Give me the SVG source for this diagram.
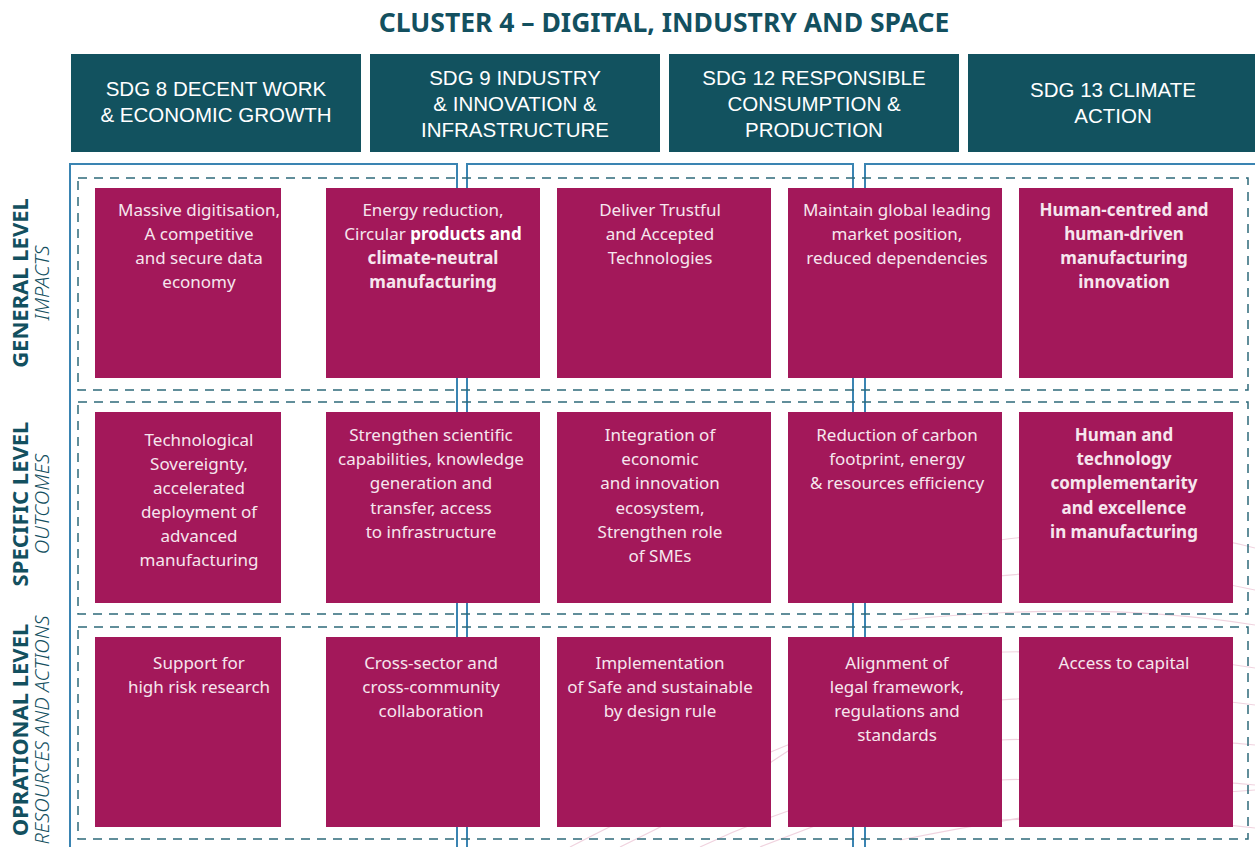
<svg xmlns="http://www.w3.org/2000/svg" width="1255" height="847" viewBox="0 0 1255 847">
<style>
.title{font-family:"Noto Sans","Open Sans",sans-serif;font-weight:700;font-size:26.5px;fill:#13505f}
.hdr rect{fill:#12525f}
.hdr text{font-family:"Liberation Sans",Arial,sans-serif;font-size:20.5px;fill:#ffffff;text-anchor:middle}
.box rect{fill:#a3185a}
.box text{font-family:"Noto Sans","Open Sans",sans-serif;font-size:17px;fill:#f6e6ee;text-anchor:middle}
.b{font-weight:700;fill:#ffffff}
.lvl{font-family:"Noto Sans","Open Sans",sans-serif;font-size:22px;font-weight:700;fill:#13505f;text-anchor:middle}
.sub{font-family:"Noto Sans","Open Sans",sans-serif;font-size:20px;font-style:italic;font-weight:300;fill:#13505f;text-anchor:middle}
.col{fill:none;stroke:#3a84b2;stroke-width:2}
.row{fill:none;stroke:#2e6a7a;stroke-width:1.5;stroke-dasharray:9 7}
.deco{fill:none;stroke:#f0d3df;stroke-width:1.2}
</style>
<rect width="1255" height="847" fill="#ffffff"/>
<g id="decoration">
<path class="deco" d="M1000 540 Q1150 520 1255 548"/>
<path class="deco" d="M960 580 Q1120 560 1255 590"/>
<path class="deco" d="M900 620 Q1100 600 1255 625"/>
<path class="deco" d="M860 660 Q1080 640 1255 668"/>
<path class="deco" d="M1000 700 Q1150 690 1255 705"/>
<path class="deco" d="M1000 740 Q1150 735 1255 745"/>
<path class="deco" d="M1000 780 Q1150 775 1255 785"/>
<path class="deco" d="M1000 820 Q1150 815 1255 828"/>
<path class="deco" d="M900 840 Q1100 800 1255 790"/>
<path class="deco" d="M570 847 Q700 780 800 740"/>
<path class="deco" d="M620 847 Q740 790 860 700"/>
<path class="deco" d="M700 847 Q800 800 900 780"/>
<path class="deco" d="M760 847 Q880 800 1000 760"/>
</g>
<text class="title" x="664" y="32" text-anchor="middle">CLUSTER 4 – DIGITAL, INDUSTRY AND SPACE</text>
<g id="h1" class="hdr"><rect x="71" y="54" width="290" height="98"/><text x="216" y="96">SDG 8 DECENT WORK<tspan x="216" dy="26">&amp; ECONOMIC GROWTH</tspan></text></g>
<g id="h2" class="hdr"><rect x="370" y="54" width="290" height="98"/><text x="515" y="85">SDG 9 INDUSTRY<tspan x="515" dy="26">&amp; INNOVATION &amp;</tspan><tspan x="515" dy="26">INFRASTRUCTURE</tspan></text></g>
<g id="h3" class="hdr"><rect x="669" y="54" width="290" height="98"/><text x="814" y="85">SDG 12 RESPONSIBLE<tspan x="814" dy="26">CONSUMPTION &amp;</tspan><tspan x="814" dy="26">PRODUCTION</tspan></text></g>
<g id="h4" class="hdr"><rect x="968" y="54" width="290" height="98"/><text x="1113" y="97">SDG 13 CLIMATE<tspan x="1113" dy="26">ACTION</tspan></text></g>
<g id="connectors">
<rect class="col" x="70" y="164" width="387" height="700"/>
<rect class="col" x="467" y="164" width="386" height="700"/>
<rect class="col" x="865" y="164" width="420" height="700"/>
<rect class="row" x="78" y="178" width="1170" height="212"/>
<rect class="row" x="78" y="402" width="1170" height="212"/>
<rect class="row" x="78" y="627" width="1170" height="212"/>
</g>
<g id="labels">
<text class="lvl" transform="translate(28 283) rotate(-90)">GENERAL LEVEL</text>
<text class="sub" transform="translate(49 283) rotate(-90)">IMPACTS</text>
<text class="lvl" transform="translate(28 504) rotate(-90)">SPECIFIC LEVEL</text>
<text class="sub" transform="translate(49 504) rotate(-90)">OUTCOMES</text>
<text class="lvl" transform="translate(28 730) rotate(-90)">OPRATIONAL LEVEL</text>
<text class="sub" transform="translate(49 730) rotate(-90)">RESOURCES AND ACTIONS</text>
</g>
<g id="r1c1" class="box"><rect x="95" y="188" width="186" height="190"/><text x="199" y="216">Massive digitisation,</text><text x="199" y="240">A competitive</text><text x="199" y="264">and secure data</text><text x="199" y="288">economy</text></g>
<g id="r1c2" class="box"><rect x="326" y="188" width="214" height="190"/><text x="433" y="216">Energy reduction,</text><text x="433" y="240">Circular <tspan class="b">products and</tspan></text><text x="433" y="264" class="b">climate-neutral</text><text x="433" y="288" class="b">manufacturing</text></g>
<g id="r1c3" class="box"><rect x="557" y="188" width="214" height="190"/><text x="660" y="216">Deliver Trustful</text><text x="660" y="240">and Accepted</text><text x="660" y="264">Technologies</text></g>
<g id="r1c4" class="box"><rect x="788" y="188" width="214" height="190"/><text x="897" y="216">Maintain global leading</text><text x="897" y="240">market position,</text><text x="897" y="264">reduced dependencies</text></g>
<g id="r1c5" class="box"><rect x="1019" y="188" width="214" height="190"/><text x="1124" y="216" class="b">Human-centred and</text><text x="1124" y="240" class="b">human-driven</text><text x="1124" y="264" class="b">manufacturing</text><text x="1124" y="288" class="b">innovation</text></g>
<g id="r2c1" class="box"><rect x="95" y="412" width="186" height="191"/><text x="199" y="446">Technological</text><text x="199" y="470">Sovereignty,</text><text x="199" y="494">accelerated</text><text x="199" y="518">deployment of</text><text x="199" y="542">advanced</text><text x="199" y="566">manufacturing</text></g>
<g id="r2c2" class="box"><rect x="326" y="412" width="214" height="191"/><text x="431" y="441">Strengthen scientific</text><text x="431" y="465">capabilities, knowledge</text><text x="431" y="489">generation and</text><text x="431" y="514">transfer, access</text><text x="431" y="538">to infrastructure</text></g>
<g id="r2c3" class="box"><rect x="557" y="412" width="214" height="191"/><text x="660" y="441">Integration of</text><text x="660" y="465">economic</text><text x="660" y="489">and innovation</text><text x="660" y="514">ecosystem,</text><text x="660" y="538">Strengthen role</text><text x="660" y="562">of SMEs</text></g>
<g id="r2c4" class="box"><rect x="788" y="412" width="214" height="191"/><text x="897" y="441">Reduction of carbon</text><text x="897" y="465">footprint, energy</text><text x="897" y="489">&amp; resources efficiency</text></g>
<g id="r2c5" class="box"><rect x="1019" y="412" width="214" height="191"/><text x="1124" y="441" class="b">Human and</text><text x="1124" y="465" class="b">technology</text><text x="1124" y="489" class="b">complementarity</text><text x="1124" y="514" class="b">and excellence</text><text x="1124" y="538" class="b">in manufacturing</text></g>
<g id="r3c1" class="box"><rect x="95" y="637" width="186" height="190"/><text x="199" y="669">Support for</text><text x="199" y="693">high risk research</text></g>
<g id="r3c2" class="box"><rect x="326" y="637" width="214" height="190"/><text x="431" y="669">Cross-sector and</text><text x="431" y="693">cross-community</text><text x="431" y="717">collaboration</text></g>
<g id="r3c3" class="box"><rect x="557" y="637" width="214" height="190"/><text x="660" y="669">Implementation</text><text x="660" y="693">of Safe and sustainable</text><text x="660" y="717">by design rule</text></g>
<g id="r3c4" class="box"><rect x="788" y="637" width="214" height="190"/><text x="897" y="669">Alignment of</text><text x="897" y="693">legal framework,</text><text x="897" y="717">regulations and</text><text x="897" y="741">standards</text></g>
<g id="r3c5" class="box"><rect x="1019" y="637" width="214" height="190"/><text x="1124" y="669">Access to capital</text></g>
</svg>
